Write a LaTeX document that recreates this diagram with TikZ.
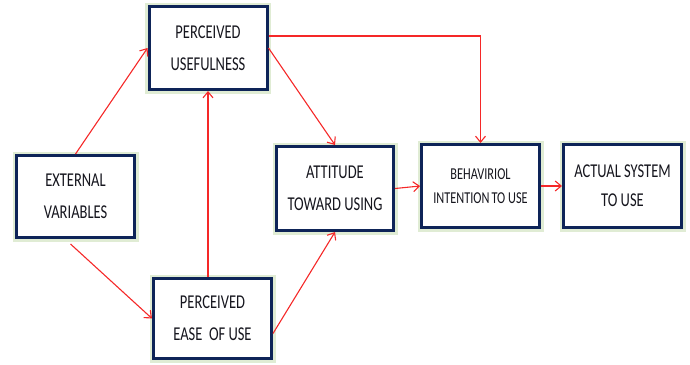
\documentclass[tikz,border=0pt]{standalone}
\usepackage{fontspec}
\setmainfont{Carlito}
\usepackage{graphicx}
\usetikzlibrary{arrows.meta}
\definecolor{boxnavy}{RGB}{14,36,88}
\definecolor{glowgreen}{RGB}{224,236,212}
\definecolor{linkred}{RGB}{245,40,40}
\definecolor{inkdark}{RGB}{22,22,30}
\newcommand{\tallcaps}[1]{\scalebox{1}[1.35]{#1}}

\begin{document}
\begin{tikzpicture}[
        x=1pt, y=-1pt,
        box/.style={draw=boxnavy, line width=3pt, fill=white, minimum width=118pt,
            minimum height=83pt, align=center, text=inkdark, inner sep=0pt,
            font=\fontsize{14.5}{32}\selectfont,
            preaction={draw=glowgreen, line width=8pt}},
        smallbox/.style={box, font=\fontsize{12.3}{24.5}\selectfont},
        link/.style={linkred, line width=1.1pt, -{Straight Barb[length=6pt,width=10pt]}},
    ]
    \useasboundingbox (0,0) rectangle (690,364);

    \node[box] (pu) at (208,48) {\tallcaps{PERCEIVED}\\\tallcaps{USEFULNESS}};
    \node[box, minimum height=82pt] (ext) at (75.5,196.5) {\tallcaps{EXTERNAL}\\\tallcaps{VARIABLES}};
    \node[box, minimum height=80pt] (peou) at (212.5,318.5) {\tallcaps{PERCEIVED}\\\tallcaps{EASE\ \ OF USE}};
    \node[box, minimum width=117pt, minimum height=84pt] (att) at (335,188.5) {\tallcaps{ATTITUDE}\\\tallcaps{TOWARD USING}};
    \node[smallbox] (bi) at (480.5,186) {\tallcaps{BEHAVIRIOL}\\\tallcaps{INTENTION\,TO USE}};
    \node[box, font=\fontsize{14.5}{29}\selectfont] (asu) at (622.5,186) {\tallcaps{ACTUAL SYSTEM}\\\tallcaps{TO USE}};

    \draw[link] (ext.north) -- (pu.west);
    \draw[link] (peou.north -| pu.south) -- (pu.south);
    \draw[link] (pu.east) -- (att.north);
    \draw[link] ([yshift=12pt]pu.east) -| (bi.north);
    \draw[link] ([xshift=-5pt,yshift=-5pt]ext.south) -- (peou.west);
    \draw[link] ([yshift=-15pt]peou.east) -- (att.south);
    \draw[link] (att.east) -- (bi.west);
    \draw[link] (bi.east) -- (asu.west);
\end{tikzpicture}
\end{document}
